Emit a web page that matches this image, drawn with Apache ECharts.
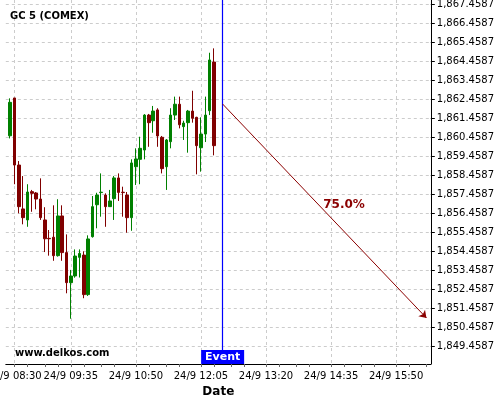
<!DOCTYPE html>
<html>
<head>
<meta charset="utf-8">
<script src="https://cdn.jsdelivr.net/npm/echarts@6/dist/echarts.min.js"></script>
<style>html,body{margin:0;padding:0;background:#fff}#chart{width:500px;height:400px}</style>
</head>
<body>
<div id="chart"></div>
<script>
// ---- data ----
const candleTimes = ['08:25','08:30','08:35','08:40','08:45','08:50','08:55','09:00','09:05','09:10',
  '09:15','09:20','09:25','09:30','09:35','09:40','09:45','09:50','09:55','10:00',
  '10:05','10:10','10:15','10:20','10:25','10:30','10:35','10:40','10:45','10:50',
  '10:55','11:00','11:05','11:10','11:15','11:20','11:25','11:30','11:35','11:40',
  '11:45','11:50','11:55','12:00','12:05','12:10','12:15','12:20'];
const opens = [1860.56,1862.55,1859.02,1856.71,1856.13,1857.62,1857.55,1857.23,1856.13,1855.16,
  1855.22,1854.25,1856.34,1854.41,1852.83,1853.18,1854.16,1854.28,1852.20,1855.25,
  1856.93,1857.57,1857.44,1856.83,1857.25,1858.34,1857.59,1857.44,1856.25,1858.93,
  1859.32,1859.81,1861.65,1861.35,1861.92,1860.48,1858.93,1860.25,1861.65,1862.22,
  1861.04,1861.25,1861.86,1861.53,1859.93,1860.65,1861.88,1864.44];
const closes = [1862.32,1859.02,1856.83,1856.25,1857.60,1857.53,1857.23,1856.25,1855.14,1855.14,
  1854.25,1856.34,1854.41,1852.83,1853.18,1854.23,1854.37,1852.20,1855.13,1856.83,
  1857.44,1857.59,1856.83,1857.13,1858.34,1857.58,1857.57,1856.25,1859.13,1859.34,
  1859.90,1861.65,1861.25,1861.86,1860.55,1858.83,1860.34,1861.65,1862.22,1861.14,
  1861.23,1861.86,1861.48,1860.04,1860.65,1861.65,1864.55,1860.04];
const lows = [1860.42,1858.01,1856.48,1855.90,1855.77,1856.56,1856.69,1856.13,1854.44,1854.25,
  1853.98,1854.20,1853.98,1852.27,1850.93,1853.09,1853.10,1852.01,1852.13,1855.20,
  1855.69,1856.30,1855.77,1856.83,1856.13,1857.13,1856.30,1855.46,1855.56,1857.97,
  1858.01,1859.32,1859.98,1860.72,1859.98,1858.58,1857.71,1859.90,1861.39,1860.95,
  1860.34,1859.67,1861.25,1858.53,1858.67,1860.23,1861.65,1859.53];
const highs = [1862.53,1862.55,1859.23,1858.44,1858.01,1857.71,1857.60,1858.32,1856.80,1855.60,
  1856.90,1857.22,1856.90,1855.37,1853.50,1854.58,1854.58,1854.48,1855.32,1857.39,
  1857.56,1858.58,1857.53,1857.71,1858.44,1858.58,1857.88,1857.60,1859.32,1859.90,
  1860.51,1861.70,1861.71,1862.13,1862.01,1860.55,1860.39,1862.01,1862.62,1862.62,
  1861.35,1861.92,1862.93,1861.56,1861.53,1862.62,1864.93,1865.16];
const xTickLabels = ['08:30','09:35','10:50','12:05','13:20','14:35','15:50'];
const yTicks = [1849.4587,1850.4587,1851.4587,1852.4587,1853.4587,1854.4587,1855.4587,1856.4587,
  1857.4587,1858.4587,1859.4587,1860.4587,1861.4587,1862.4587,1863.4587,1864.4587,1865.4587,
  1866.4587,1867.4587];
const eventTime = '12:30';
const projStart = ['12:30', 1862.23];
const projEnd = ['16:25', 1850.97];
const projLabel = '75.0%';
const projLabelAt = ['14:50', 1856.92];
const dateLabel = '24/9';

// ---- axis slots (5-minute grid) ----
const axisSlots = [];
for (let m = 8*60+20; m <= 16*60+30; m += 5) {
  axisSlots.push(String(Math.floor(m/60)).padStart(2,'0') + ':' + String(m%60).padStart(2,'0'));
}
const candleData = axisSlots.map(t => {
  const i = candleTimes.indexOf(t);
  return i < 0 ? '-' : [opens[i], closes[i], lows[i], highs[i]];
});
const majorIdx = xTickLabels.map(t => axisSlots.indexOf(t));
const labelFn = (idx) => majorIdx.includes(idx);
const tickFn = (idx) => {
  let m = -1;
  for (const k of majorIdx) if (k <= idx) m = k;
  if (m < 0) return false;
  return [0,3,7,10].includes(idx - m);
};
const FONT = 'DejaVu Sans';
const fmtY = v => Number(v).toLocaleString('en-US',{minimumFractionDigits:4, maximumFractionDigits:4});

const chart = echarts.init(document.getElementById('chart'), null, {renderer:'canvas'});
chart.setOption({
  animation: false,
  backgroundColor: '#ffffff',
  grid: {left: 5.8, right: 69.2, top: 0, bottom: 36, containLabel: false, outerBoundsMode: 'none'},
  title: [
    {text: 'GC 5 (COMEX)', left: 10, top: 11, padding: 0,
     textStyle: {fontFamily: FONT, fontSize: 10, fontWeight: 'bold', color: '#000'}},
    {text: 'www.delkos.com', left: 15, top: 348, padding: 0,
     textStyle: {fontFamily: FONT, fontSize: 10, fontWeight: 'bold', color: '#000'}}
  ],
  xAxis: {
    type: 'category', data: axisSlots, boundaryGap: false,
    name: 'Date', nameLocation: 'middle', nameGap: 20,
    nameTextStyle: {fontFamily: FONT, fontSize: 12, fontWeight: 'bold', color: '#000'},
    axisLine: {lineStyle: {color: '#000', width: 1}},
    axisTick: {interval: tickFn, length: 3, lineStyle: {color: '#666'}},
    axisLabel: {interval: labelFn, hideOverlap: false, showMinLabel: true, formatter: v => dateLabel + ' ' + v, fontFamily: FONT, fontSize: 10, color: '#000', margin: 7},
    splitLine: {show: true, interval: labelFn, lineStyle: {color: '#cccccc', type: [3,3], width: 1}}
  },
  yAxis: {
    type: 'value', position: 'right', min: 1848.548, max: 1867.706,
    axisLine: {show: true, lineStyle: {color: '#000', width: 1}},
    axisTick: {show: true, customValues: yTicks, length: 4, lineStyle: {color: '#000'}},
    axisLabel: {customValues: yTicks, formatter: fmtY, fontFamily: FONT, fontSize: 10, color: '#000', margin: 6},
    splitLine: {show: true, lineStyle: {color: '#cccccc', type: [3,3], width: 1}}
  },
  series: [{
    type: 'candlestick',
    data: candleData,
    barWidth: 3,
    itemStyle: {color: '#008000', color0: '#800000', borderColor: '#008000', borderColor0: '#800000', borderWidth: 1},
    markLine: {
      silent: true, animation: false,
      symbol: ['none', 'none'],
      data: [
        {xAxis: eventTime, lineStyle: {color: '#0000ff', width: 1.2, type: 'solid'}, label: {show: false}},
        [{coord: projStart, symbol: 'none'}, {coord: projEnd, symbol: 'arrow', symbolSize: 7}]
      ],
      lineStyle: {color: '#8b0000', width: 1, type: 'solid'},
      label: {show: false}
    },
    markPoint: {
      silent: true, animation: false,
      data: [
        {coord: projLabelAt, symbol: 'circle', symbolSize: 1, itemStyle: {color: 'rgba(0,0,0,0)'},
         label: {show: true, position: 'inside', formatter: projLabel, color: '#8b0000', fontFamily: FONT, fontSize: 12, fontWeight: 'bold'}},
        {coord: [eventTime, 1848.917], symbol: 'rect', symbolSize: [43, 14], itemStyle: {color: '#0000ff'},
         label: {show: true, position: 'inside', formatter: 'Event', color: '#fff', fontFamily: FONT, fontSize: 11, fontWeight: 'bold'}}
      ]
    }
  }]
});
</script>
</body>
</html>
